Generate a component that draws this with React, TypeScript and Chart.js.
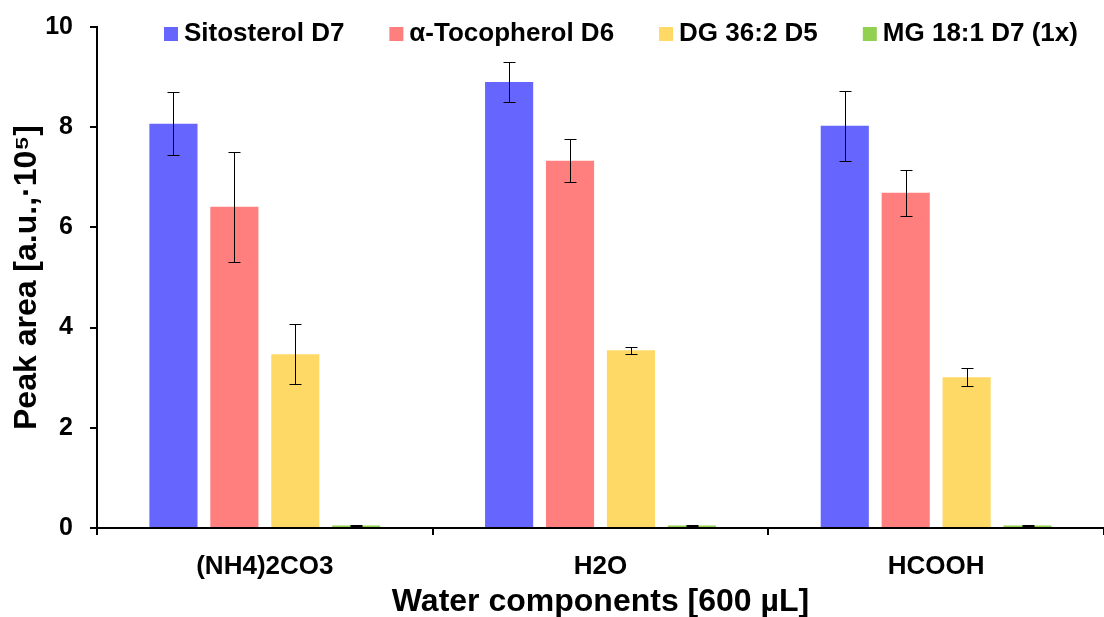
import React, { useEffect, useRef } from "react";
import { Chart, registerables } from "chart.js";

Chart.register(...registerables);

const categories = ["(NH4)2CO3", "H2O", "HCOOH"];
const seriesNames = ["Sitosterol D7", "α-Tocopherol D6", "DG 36:2 D5", "MG 18:1 D7 (1x)"];
const seriesColors = ["#6666FF", "#FF7F7F", "#FFD966", "#92D050"];
const sitosterol = [8.07, 8.9, 8.03];
const sitosterolErr = [0.63, 0.4, 0.7];
const tocopherol = [6.41, 7.33, 6.69];
const tocopherolErr = [1.1, 0.43, 0.46];
const dg = [3.47, 3.55, 3.01];
const dgErr = [0.6, 0.07, 0.18];
const mg = [0.05, 0.05, 0.05];
const mgErr = [0.01, 0.01, 0.01];
const yTicks = [0, 2, 4, 6, 8, 10];

const FONT = "'Liberation Sans', Arial, sans-serif";

const errorBarPlugin = {
  id: "errorBars",
  afterDatasetsDraw(chart: any) {
    const ctx = chart.ctx;
    const yScale = chart.scales.y;
    ctx.save();
    ctx.strokeStyle = "#000";
    ctx.lineWidth = 1;
    chart.data.datasets.forEach((ds: any, di: number) => {
      const meta = chart.getDatasetMeta(di);
      meta.data.forEach((bar: any, i: number) => {
        const v = ds.data[i];
        const e = ds.errors[i];
        const x = Math.round(bar.x) + 0.5;
        const yt = Math.round(yScale.getPixelForValue(v + e)) + 0.5;
        const yb = Math.round(yScale.getPixelForValue(v - e)) + 0.5;
        ctx.beginPath();
        ctx.moveTo(x, yt);
        ctx.lineTo(x, yb);
        ctx.moveTo(x - 6, yt);
        ctx.lineTo(x + 6, yt);
        ctx.moveTo(x - 6, yb);
        ctx.lineTo(x + 6, yb);
        ctx.stroke();
      });
    });
    ctx.restore();
  },
};

const legendPlugin = {
  id: "customLegend",
  afterDraw(chart: any) {
    const ctx = chart.ctx;
    ctx.save();
    ctx.font = `bold 26px ${FONT}`;
    ctx.textBaseline = "middle";
    ctx.textAlign = "left";
    let x = 164;
    const yc = 34;
    chart.data.datasets.forEach((ds: any) => {
      ctx.fillStyle = ds.backgroundColor;
      ctx.fillRect(x, yc - 7, 14, 14);
      ctx.fillStyle = "#000";
      ctx.fillText(ds.label, x + 20, yc);
      x += 20 + ctx.measureText(ds.label).width + 45;
    });
    ctx.restore();
  },
};

export default function App() {
  const ref = useRef<HTMLCanvasElement>(null);
  useEffect(() => {
    document.body.style.margin = "0";
    const values = [sitosterol, tocopherol, dg, mg];
    const errs = [sitosterolErr, tocopherolErr, dgErr, mgErr];
    const chart = new Chart(ref.current!, {
      type: "bar",
      data: {
        labels: categories,
        datasets: seriesNames.map((name, i) => ({
          label: name,
          data: values[i],
          errors: errs[i],
          backgroundColor: seriesColors[i],
          borderWidth: 0,
          categoryPercentage: 0.726,
          barPercentage: 0.79,
        })) as any,
      },
      options: {
        animation: false,
        responsive: true,
        maintainAspectRatio: false,
        layout: { padding: { top: 27, right: 0, left: 0, bottom: 0 } },
        plugins: {
          legend: { display: false },
          tooltip: { enabled: false },
        },
        scales: {
          x: {
            grid: { offset: true, drawOnChartArea: false, tickLength: 7, color: "#000", lineWidth: 2 },
            border: { display: true, color: "#000", width: 2 },
            ticks: { color: "#000", font: { family: FONT, weight: "bold", size: 26 }, padding: 16 },
            title: {
              display: true,
              text: "Water components [600 µL]",
              color: "#000",
              font: { family: FONT, weight: "bold", size: 32, lineHeight: 0.9 },
              padding: 0,
            },
            afterFit: (s: any) => {
              s.height = 89;
              s.paddingLeft = 0;
              s.paddingRight = 0;
            },
          },
          y: {
            min: 0,
            max: 10,
            afterBuildTicks: (s: any) => {
              s.ticks = yTicks.map((v) => ({ value: v }));
            },
            grid: { drawOnChartArea: false, tickLength: 7, color: "#000", lineWidth: 2 },
            border: { display: true, color: "#000", width: 2 },
            ticks: { color: "#000", font: { family: FONT, weight: "bold", size: 25 }, padding: 17 },
            title: {
              display: true,
              text: "Peak area [a.u.,·10⁵]",
              color: "#000",
              font: { family: FONT, weight: "bold", size: 32, lineHeight: 1.2 },
              padding: { top: 8, bottom: 0 },
            },
            afterFit: (s: any) => {
              s.width = 97;
              s.paddingTop = 0;
              s.paddingBottom = 0;
            },
          },
        },
      },
      plugins: [errorBarPlugin, legendPlugin],
    } as any);
    return () => chart.destroy();
  }, []);
  return (
    <div style={{ width: 1104, height: 617, position: "relative" }}>
      <canvas ref={ref} />
    </div>
  );
}
